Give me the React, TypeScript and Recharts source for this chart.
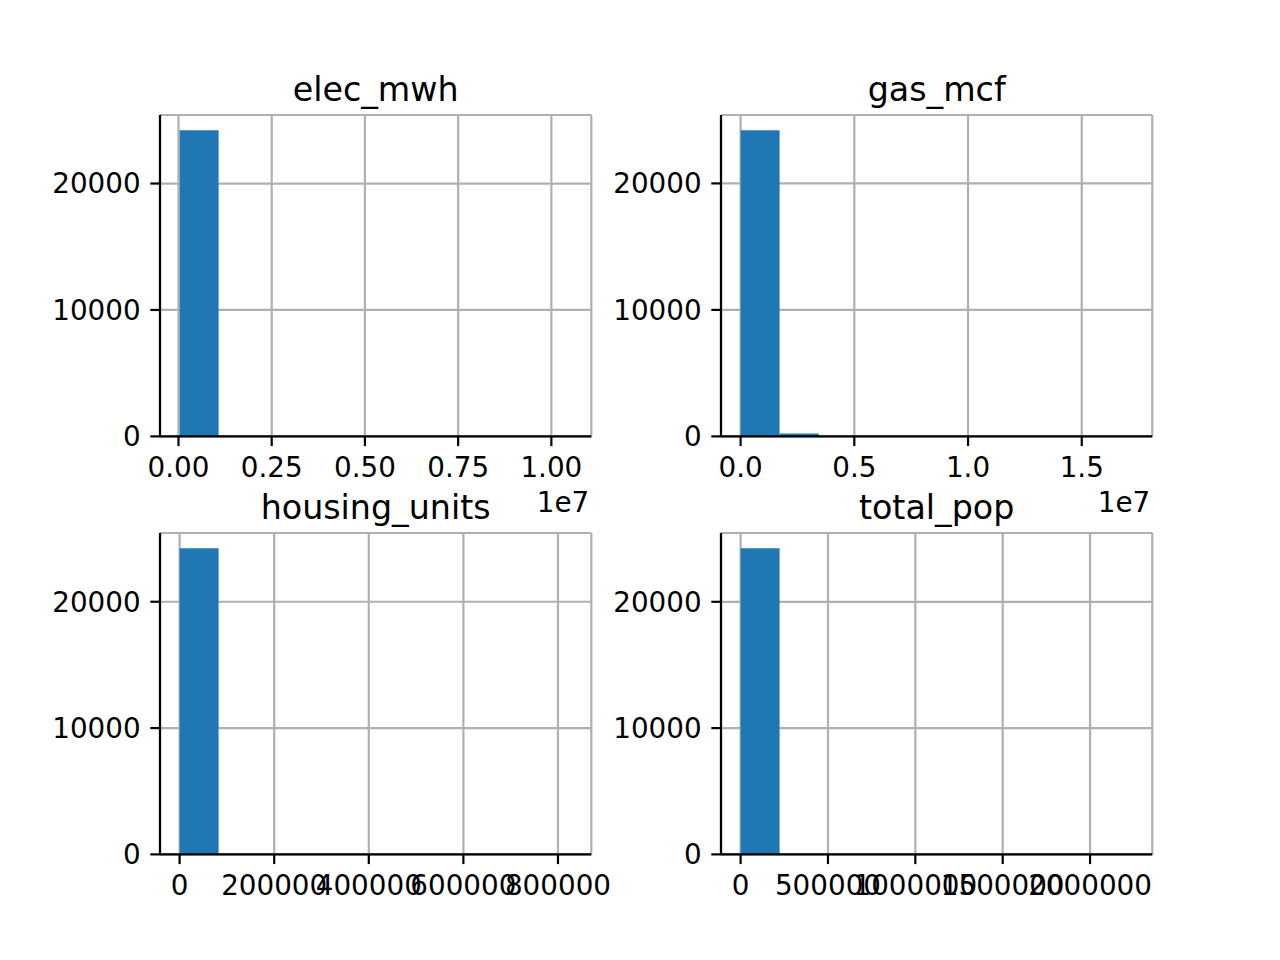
import React from "react";
import { BarChart, Bar, XAxis, YAxis, CartesianGrid } from "recharts";

// histogram bin counts (10 bins each)
const elecCounts = [24210, 18, 6, 3, 2, 1, 0, 1, 0, 1];
const gasCounts = [24200, 230, 12, 5, 2, 1, 1, 0, 0, 1];
const housingCounts = [24230, 8, 2, 1, 0, 0, 0, 0, 0, 1];
const popCounts = [24235, 5, 1, 1, 0, 0, 0, 0, 0, 1];

// min / max of each column (bin range)
const elecRange = [30000, 10545000];
const gasRange = [0, 17240000];
const housingRange = [0, 829000];
const popRange = [0, 2244000];

const elecTicks = [0, 2500000, 5000000, 7500000, 10000000];
const gasTicks = [0, 5000000, 10000000, 15000000];
const housingTicks = [0, 200000, 400000, 600000, 800000];
const popTicks = [0, 500000, 1000000, 1500000, 2000000];
const countTicks = [0, 10000, 20000];

const FONT = "DejaVu Sans, sans-serif";
const LW = 2.2;
const AX_W = 431.3;
const AX_H = 321.4;
const PAD_L = 110;
const PAD_T = 60;
const PAD_R = 50;
const PAD_B = 100;

type PanelProps = {
  title: string;
  counts: number[];
  range: number[];
  ticks: number[];
  fmt: (v: number) => string;
  offsetText?: string;
  left: number;
  top: number;
};

function HistPanel({ title, counts, range, ticks, fmt, offsetText, left, top }: PanelProps) {
  const binW = (range[1] - range[0]) / counts.length;
  const data = counts.map((c, i) => ({ x: range[0] + (i + 0.5) * binW, count: c }));
  const pad = (range[1] - range[0]) * 0.05;
  const xDomain = [range[0] - pad, range[1] + pad];
  const yDomain = [0, Math.max(...counts) * 1.05];
  const w = AX_W + PAD_L + PAD_R;
  const h = AX_H + PAD_T + PAD_B;
  const tickStyle = { fill: "#000", fontSize: 27.8, fontFamily: FONT };
  const line = { stroke: "#000", strokeWidth: LW };

  return (
    <div style={{ position: "absolute", left: left - PAD_L, top: top - PAD_T, width: w, height: h }}>
      <BarChart
        width={w}
        height={h}
        data={data}
        margin={{ top: PAD_T, right: PAD_R, left: 0, bottom: 0 }}
        barCategoryGap={0}
        barGap={0}
      >
        <XAxis
          dataKey="x"
          type="number"
          domain={xDomain}
          ticks={ticks}
          interval={0}
          tickFormatter={fmt}
          height={PAD_B}
          tickSize={9.7}
          tickMargin={11.5}
          tick={tickStyle}
          axisLine={line}
          tickLine={line}
          allowDataOverflow
        />
        <XAxis
          xAxisId="top"
          orientation="top"
          dataKey="x"
          type="number"
          domain={xDomain}
          height={0}
          tick={false}
          tickLine={false}
          axisLine={line}
          allowDataOverflow
        />
        <YAxis
          type="number"
          domain={yDomain}
          ticks={countTicks}
          interval={0}
          width={PAD_L}
          tickSize={9.7}
          tickMargin={9.7}
          tick={tickStyle}
          axisLine={line}
          tickLine={line}
          allowDataOverflow
        />
        <YAxis
          yAxisId="right"
          orientation="right"
          type="number"
          domain={yDomain}
          width={0}
          tick={false}
          tickLine={false}
          axisLine={line}
          allowDataOverflow
        />
        <Bar dataKey="count" fill="#1f77b4" isAnimationActive={false} />
        <CartesianGrid stroke="#b0b0b0" strokeWidth={LW} />
      </BarChart>
      <svg
        width={w}
        height={h}
        style={{ position: "absolute", left: 0, top: 0, pointerEvents: "none" }}
      >
        <text
          x={PAD_L + AX_W / 2}
          y={PAD_T - 14.5}
          textAnchor="middle"
          fontFamily={FONT}
          fontSize={33.3}
          fill="#000"
        >
          {title}
        </text>
        {offsetText && (
          <text
            x={PAD_L + AX_W - 2}
            y={PAD_T + AX_H + 76}
            textAnchor="end"
            fontFamily={FONT}
            fontSize={27.8}
            fill="#000"
          >
            {offsetText}
          </text>
        )}
      </svg>
    </div>
  );
}

export default function App() {
  const lefts = [160, 720.7];
  const tops = [115.2, 533.0];
  return (
    <div
      style={{
        position: "absolute",
        left: 0,
        top: 0,
        width: 1280,
        height: 960,
        background: "#fff",
        overflow: "hidden",
      }}
    >
      <HistPanel
        title="elec_mwh"
        counts={elecCounts}
        range={elecRange}
        ticks={elecTicks}
        fmt={(v) => (v / 1e7).toFixed(2)}
        offsetText="1e7"
        left={lefts[0]}
        top={tops[0]}
      />
      <HistPanel
        title="gas_mcf"
        counts={gasCounts}
        range={gasRange}
        ticks={gasTicks}
        fmt={(v) => (v / 1e7).toFixed(1)}
        offsetText="1e7"
        left={lefts[1]}
        top={tops[0]}
      />
      <HistPanel
        title="housing_units"
        counts={housingCounts}
        range={housingRange}
        ticks={housingTicks}
        fmt={(v) => String(v)}
        left={lefts[0]}
        top={tops[1]}
      />
      <HistPanel
        title="total_pop"
        counts={popCounts}
        range={popRange}
        ticks={popTicks}
        fmt={(v) => String(v)}
        left={lefts[1]}
        top={tops[1]}
      />
    </div>
  );
}
